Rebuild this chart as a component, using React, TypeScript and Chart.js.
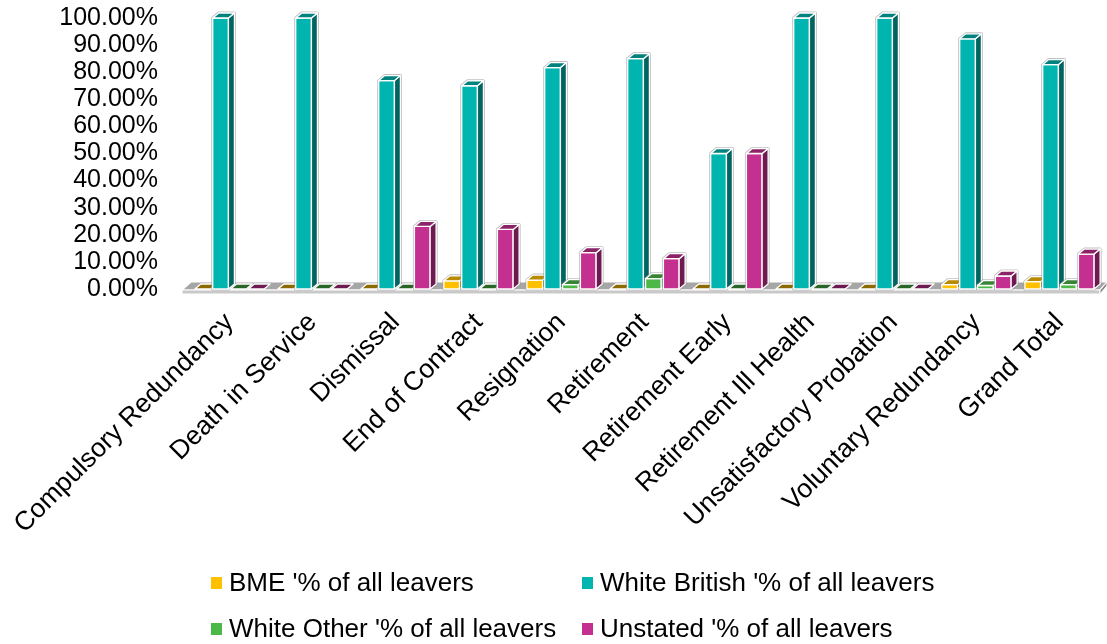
import React, { useEffect, useRef } from 'react';
import { Chart, registerables } from 'chart.js';

Chart.register(...registerables);

const categories = [
  'Compulsory Redundancy',
  'Death in Service',
  'Dismissal',
  'End of Contract',
  'Resignation',
  'Retirement',
  'Retirement Early',
  'Retirement Ill Health',
  'Unsatisfactory Probation',
  'Voluntary Redundancy',
  'Grand Total',
];

const seriesNames = [
  "BME '% of all leavers",
  "White British '% of all leavers",
  "White Other '% of all leavers",
  "Unstated '% of all leavers",
];

const bmeValues = [0, 0, 0, 3.0, 3.3, 0, 0, 0, 0, 1.6, 2.7];
const whiteBritishValues = [100, 100, 76.92, 75.0, 81.7, 85.0, 50.0, 100, 100, 92.3, 82.8];
const whiteOtherValues = [0, 0, 0, 0, 1.6, 3.8, 0, 0, 0, 1.3, 1.6];
const unstatedValues = [0, 0, 23.08, 22.0, 13.4, 11.2, 50.0, 0, 0, 4.8, 12.9];

const seriesColors = ['#FFC000', '#00B5B0', '#4DB848', '#C4308F'];

const yMin = 0;
const yMax = 100;
const yStep = 10;

const FONT = "'Liberation Sans', Arial, sans-serif";
const DX = 6;
const DY = 5;

function shade(hex: string, f: number): string {
  const n = parseInt(hex.slice(1), 16);
  const r = Math.round(((n >> 16) & 255) * f);
  const g = Math.round(((n >> 8) & 255) * f);
  const b = Math.round((n & 255) * f);
  return `rgb(${r},${g},${b})`;
}

function poly(ctx: CanvasRenderingContext2D, pts: number[][], fill: string, stroke: string, lw: number) {
  ctx.beginPath();
  ctx.moveTo(pts[0][0], pts[0][1]);
  for (let i = 1; i < pts.length; i++) ctx.lineTo(pts[i][0], pts[i][1]);
  ctx.closePath();
  ctx.fillStyle = fill;
  ctx.fill();
  ctx.lineWidth = lw;
  ctx.strokeStyle = stroke;
  ctx.stroke();
}

const floorPlugin = {
  id: 'floor3d',
  beforeDatasetsDraw(chart: any) {
    const { ctx, chartArea } = chart;
    const y0 = chart.scales.y.getPixelForValue(0);
    const left = chartArea.left;
    const right = chartArea.right;
    ctx.save();
    ctx.lineJoin = 'round';
    poly(
      ctx,
      [
        [left - 6, y0 + 1],
        [right - 1, y0 + 1],
        [right + 6, y0 - 7],
        [left + 3, y0 - 7],
      ],
      '#a6a6a6',
      '#ffffff',
      1.2
    );
    poly(
      ctx,
      [
        [left - 6, y0 + 1],
        [right - 1, y0 + 1],
        [right - 1, y0 + 5],
        [left - 6, y0 + 5],
      ],
      '#c9c9c9',
      '#ffffff',
      1
    );
    poly(
      ctx,
      [
        [right - 1, y0 + 1],
        [right + 6, y0 - 7],
        [right + 6, y0 - 3],
        [right - 1, y0 + 5],
      ],
      '#8f8f8f',
      '#ffffff',
      1
    );
    ctx.restore();
  },
  afterDatasetsDraw(chart: any) {
    const { ctx } = chart;
    const nSeries = chart.data.datasets.length;
    const nCats = chart.data.labels.length;
    ctx.save();
    ctx.lineJoin = 'round';
    for (let i = 0; i < nCats; i++) {
      for (let d = 0; d < nSeries; d++) {
        const el: any = chart.getDatasetMeta(d).data[i];
        if (!el) continue;
        const { x, y, base, width } = el.getProps(['x', 'y', 'base', 'width'], true);
        const l = x - width / 2;
        const r = x + width / 2;
        const color = seriesColors[d];
        const h = base - y;
        if (h > 0.5) {
          poly(
            ctx,
            [
              [l, base],
              [l, y],
              [l + DX, y - DY],
              [r + DX, y - DY],
              [r + DX, base - DY],
              [r, base],
            ],
            'rgba(0,0,0,0)',
            'rgba(150,150,150,0.6)',
            3
          );
          poly(ctx, [[l, y], [r, y], [r, base], [l, base]], color, '#ffffff', 1.3);
          poly(ctx, [[r, y], [r + DX, y - DY], [r + DX, base - DY], [r, base]], shade(color, 0.55), '#ffffff', 1.3);
          poly(ctx, [[l, y], [r, y], [r + DX, y - DY], [l + DX, y - DY]], shade(color, 0.72), '#ffffff', 1.3);
        } else {
          poly(ctx, [[l, base], [r, base], [r + DX, base - DY], [l + DX, base - DY]], shade(color, 0.55), '#ffffff', 1.3);
        }
      }
    }
    ctx.restore();
  },
};

const legendPlugin = {
  id: 'gridLegend',
  afterDraw(chart: any) {
    const { ctx } = chart;
    const cols = [211, 582];
    const rows = [583, 629];
    ctx.save();
    ctx.font = `26px ${FONT}`;
    ctx.textBaseline = 'middle';
    ctx.textAlign = 'left';
    chart.data.datasets.forEach((ds: any, i: number) => {
      const x = cols[i % 2];
      const y = rows[Math.floor(i / 2)];
      ctx.fillStyle = ds.backgroundColor;
      ctx.fillRect(x, y - 6, 11, 12);
      ctx.fillStyle = '#000000';
      ctx.fillText(ds.label, x + 18, y + 1);
    });
    ctx.restore();
  },
};

export default function App() {
  const canvasRef = useRef<HTMLCanvasElement | null>(null);

  useEffect(() => {
    if (!canvasRef.current) return;
    const seriesValues = [bmeValues, whiteBritishValues, whiteOtherValues, unstatedValues];
    const chart = new Chart(canvasRef.current, {
      type: 'bar',
      data: {
        labels: categories,
        datasets: seriesNames.map((name, i) => ({
          label: name,
          data: seriesValues[i],
          backgroundColor: seriesColors[i],
          borderWidth: 0,
          categoryPercentage: 0.86,
          barPercentage: 0.88,
        })),
      },
      options: {
        responsive: false,
        animation: false,
        layout: { padding: { top: 18, right: 6, bottom: 85, left: 0 } },
        plugins: {
          legend: { display: false },
          tooltip: { enabled: false },
        },
        scales: {
          x: {
            grid: { display: false },
            border: { display: false },
            ticks: {
              color: '#000000',
              font: { family: FONT, size: 26.5 },
              minRotation: 45,
              maxRotation: 45,
              autoSkip: false,
              padding: 10,
            },
            afterFit: (scale: any) => {
              scale.height = 270;
              scale.paddingLeft = 0;
              scale.paddingRight = 0;
              scale.paddingTop = 0;
              scale.paddingBottom = 0;
            },
          },
          y: {
            min: yMin,
            max: yMax,
            grid: { display: false, drawTicks: false },
            border: { display: false },
            ticks: {
              stepSize: yStep,
              autoSkip: false,
              color: '#000000',
              font: { family: FONT, size: 25 },
              padding: 30,
              callback: (v: any) => Number(v).toFixed(2) + '%',
            },
            afterFit: (scale: any) => {
              scale.width = 188;
              scale.paddingTop = 0;
              scale.paddingBottom = 0;
              scale.paddingLeft = 0;
              scale.paddingRight = 0;
            },
          },
        },
      },
      plugins: [floorPlugin, legendPlugin],
    });
    return () => chart.destroy();
  }, []);

  return (
    <div style={{ position: 'absolute', top: 0, left: 0, width: 1107, height: 644, background: '#ffffff' }}>
      <canvas ref={canvasRef} width={1107} height={644} style={{ width: 1107, height: 644, display: 'block' }} />
    </div>
  );
}
